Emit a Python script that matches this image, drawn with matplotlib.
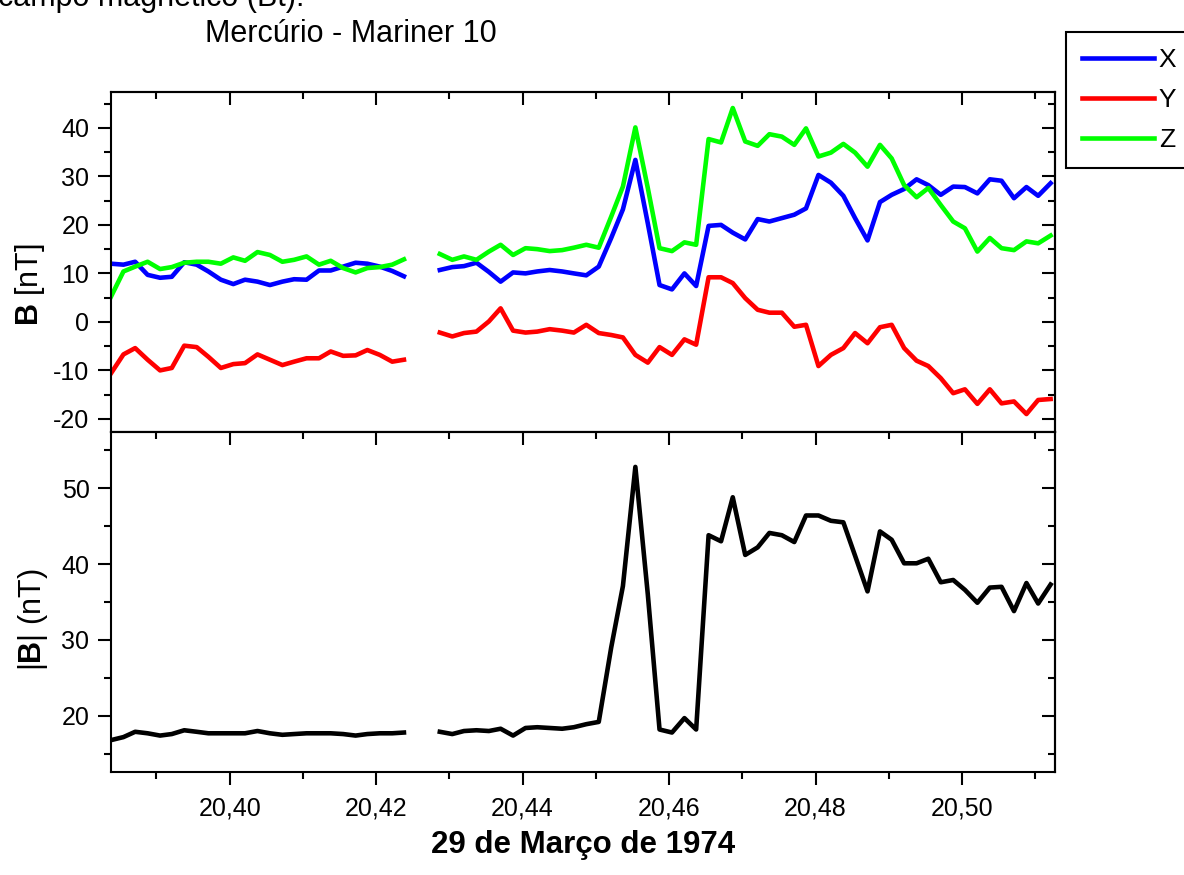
import matplotlib
matplotlib.use("Agg")
import matplotlib.pyplot as plt
from matplotlib.ticker import MultipleLocator
import numpy as np

plt.rcParams['font.family'] = ['Liberation Sans', 'DejaVu Sans']
plt.rcParams['mathtext.fontset'] = 'custom'
plt.rcParams['mathtext.rm'] = 'Liberation Sans'
plt.rcParams['mathtext.bf'] = 'Liberation Sans:bold'
plt.rcParams['axes.unicode_minus'] = False

# tempo (dia decimal) - dois trechos com falha de dados no meio
t1 = [20.3838, 20.3855, 20.3871, 20.3888, 20.3905, 20.3921, 20.3938, 20.3955,
      20.3971, 20.3988, 20.4005, 20.4021, 20.4038, 20.4055, 20.4072, 20.4088,
      20.4105, 20.4122, 20.4138, 20.4155, 20.4172, 20.4188, 20.4205, 20.4222,
      20.4238]
t2 = [20.4287, 20.4304, 20.4320, 20.4337, 20.4354, 20.4370, 20.4387, 20.4404,
      20.4420, 20.4437, 20.4454, 20.4470, 20.4487, 20.4504, 20.4521, 20.4537,
      20.4554, 20.4571, 20.4587, 20.4604, 20.4621, 20.4637, 20.4654, 20.4671,
      20.4687, 20.4704, 20.4721, 20.4737, 20.4754, 20.4771, 20.4787, 20.4804,
      20.4821, 20.4838, 20.4854, 20.4871, 20.4888, 20.4904, 20.4921, 20.4938,
      20.4954, 20.4971, 20.4988, 20.5004, 20.5021, 20.5038, 20.5054, 20.5071,
      20.5088, 20.5104, 20.5121]

bx1 = [12.0, 11.8, 12.4, 9.7, 9.1, 9.3, 12.3, 11.8, 10.4, 8.7, 7.8, 8.7, 8.3,
       7.6, 8.3, 8.8, 8.7, 10.6, 10.6, 11.4, 12.2, 12.0, 11.4, 10.5, 9.4]
by1 = [-10.6, -6.7, -5.4, -7.8, -10.0, -9.5, -4.9, -5.2, -7.2, -9.5, -8.7, -8.5,
       -6.7, -7.8, -8.9, -8.2, -7.5, -7.5, -6.1, -7.0, -6.9, -5.8, -6.8, -8.2, -7.8]
bz1 = [5.2, 10.4, 11.4, 12.4, 10.9, 11.3, 12.2, 12.4, 12.4, 12.0, 13.3, 12.6,
       14.4, 13.8, 12.4, 12.8, 13.5, 11.8, 12.6, 11.1, 10.2, 11.1, 11.3, 11.8, 12.9]
bt1 = [16.8, 17.2, 17.9, 17.7, 17.4, 17.6, 18.1, 17.9, 17.7, 17.7, 17.7, 17.7,
       18.0, 17.7, 17.5, 17.6, 17.7, 17.7, 17.7, 17.6, 17.4, 17.6, 17.7, 17.7, 17.8]

bx2 = [10.7, 11.3, 11.5, 12.2, 10.3, 8.3, 10.2, 10.0, 10.4, 10.7, 10.4, 10.0,
       9.6, 11.4, 17.3, 23.2, 33.4, 20.3, 7.6, 6.7, 10.0, 7.4, 19.8, 20.0, 18.4,
       17.0, 21.2, 20.7, 21.4, 22.1, 23.4, 30.3, 28.7, 26.0, 21.4, 16.8, 24.7,
       26.2, 27.4, 29.4, 28.2, 26.2, 27.9, 27.8, 26.5, 29.4, 29.1, 25.5, 27.8,
       26.0, 28.6]
by2 = [-2.2, -3.0, -2.3, -2.0, 0.1, 2.8, -1.8, -2.2, -2.0, -1.5, -1.8, -2.2,
       -0.6, -2.3, -2.7, -3.2, -6.8, -8.4, -5.2, -6.8, -3.6, -4.7, 9.2, 9.2, 8.0,
       4.9, 2.5, 1.9, 1.9, -1.0, -0.6, -9.1, -6.8, -5.4, -2.3, -4.4, -1.1, -0.6,
       -5.4, -8.0, -9.1, -11.6, -14.7, -13.9, -16.9, -13.9, -16.8, -16.4, -19.0,
       -16.1, -15.9]
bz2 = [14.0, 12.8, 13.5, 12.8, 14.5, 15.9, 13.8, 15.2, 15.0, 14.6, 14.8, 15.3,
       15.9, 15.3, 21.7, 27.9, 40.1, 27.6, 15.2, 14.6, 16.4, 15.9, 37.7, 37.0,
       44.1, 37.2, 36.3, 38.7, 38.2, 36.5, 39.9, 34.1, 34.9, 36.7, 34.9, 32.0,
       36.5, 33.7, 28.2, 25.7, 27.6, 24.1, 20.7, 19.3, 14.5, 17.3, 15.2, 14.8,
       16.6, 16.2, 17.8]
bt2 = [17.9, 17.6, 18.0, 18.1, 18.0, 18.3, 17.4, 18.4, 18.5, 18.4, 18.3, 18.5,
       18.9, 19.2, 29.0, 37.1, 52.8, 36.0, 18.2, 17.8, 19.7, 18.2, 43.8, 43.0,
       48.8, 41.2, 42.2, 44.1, 43.8, 42.9, 46.4, 46.4, 45.7, 45.5, 41.1, 36.4,
       44.3, 43.2, 40.1, 40.1, 40.7, 37.6, 37.9, 36.6, 34.9, 36.9, 37.0, 33.8,
       37.5, 34.8, 37.3]

xticks = [20.40, 20.42, 20.44, 20.46, 20.48, 20.50]
xticklabels = ['20,40', '20,42', '20,44', '20,46', '20,48', '20,50']

W, H = 1184, 875
fig = plt.figure(figsize=(W / 100, H / 100), dpi=100)
L, R = 111 / W, 1055 / W
ax1 = fig.add_axes([L, 1 - 432 / H, R - L, 340 / H])
ax2 = fig.add_axes([L, 1 - 772 / H, R - L, 340 / H])

lw = 3.3
ax1.plot(t1, bx1, color='#0000ff', lw=lw, label='X')
ax1.plot(t1, by1, color='#ff0000', lw=lw, label='Y')
ax1.plot(t1, bz1, color='#00ff00', lw=lw, label='Z')
ax1.plot(t2, bx2, color='#0000ff', lw=lw)
ax1.plot(t2, by2, color='#ff0000', lw=lw)
ax1.plot(t2, bz2, color='#00ff00', lw=lw)
ax2.plot(t1, bt1, color='black', lw=lw)
ax2.plot(t2, bt2, color='black', lw=lw)

xmin, xmax = 20.3838, 20.5127
ax1.set_ylim(-22.7, 47.4)
ax2.set_ylim(12.6, 57.4)

for ax in (ax1, ax2):
    ax.set_xlim(xmin, xmax)
    for s in ax.spines.values():
        s.set_linewidth(1.5)
    ax.set_xticks(xticks)
    ax.xaxis.set_minor_locator(MultipleLocator(0.01))
    ax.yaxis.set_major_locator(MultipleLocator(10))
    ax.yaxis.set_minor_locator(MultipleLocator(5))
    ax.tick_params(which='both', width=1.5, labelsize=18)
    ax.tick_params(which='major', length=9.5)
    ax.tick_params(which='minor', length=5)
    ax.tick_params(axis='y', which='both', left=True, right=False,
                   direction='out', pad=6)
    # right / top ticks point inward
    sec = ax.secondary_yaxis('right')
    sec.yaxis.set_major_locator(MultipleLocator(10))
    sec.yaxis.set_minor_locator(MultipleLocator(5))
    sec.tick_params(which='both', direction='in', width=1.5, labelright=False)
    sec.tick_params(which='major', length=9.5)
    sec.tick_params(which='minor', length=5)
    sec.spines['right'].set_linewidth(1.5)
    top = ax.secondary_xaxis('top')
    top.set_xticks(xticks)
    top.xaxis.set_minor_locator(MultipleLocator(0.01))
    top.tick_params(which='both', direction='in', width=1.5, labeltop=False)
    top.tick_params(which='major', length=9.5)
    top.tick_params(which='minor', length=5)
    top.spines['top'].set_linewidth(1.5)

ax1.tick_params(axis='x', which='both', bottom=False, labelbottom=False)
ax2.tick_params(axis='x', which='both', direction='out', pad=8)
ax2.set_xticklabels(xticklabels)

fig.text(30 / W, 1 - 285 / H, r'$\mathbf{B}$ [nT]', rotation=90,
         ha='center', va='center', fontsize=22)
fig.text(33 / W, 1 - 620 / H, r'|$\mathbf{B}$| (nT)', rotation=90,
         ha='center', va='center', fontsize=22)
fig.text(583 / W, 1 - 845 / H, '29 de Março de 1974', ha='center', va='center',
         fontsize=22.5, fontweight='bold')
fig.text(205 / W, 1 - 42 / H, 'Mercúrio - Mariner 10', ha='left',
         va='baseline', fontsize=22)
fig.text(-2 / W, 1 - 6 / H, 'campo magnético (Bt).', ha='left',
         va='baseline', fontsize=22)

leg = fig.legend(loc='upper left', bbox_to_anchor=(1066 / W, 1 - 32 / H),
                 borderaxespad=0, fontsize=19, handlelength=2.7,
                 handletextpad=0.2, labelspacing=0.6, borderpad=0.62,
                 fancybox=False, edgecolor='black', framealpha=1)
leg.get_frame().set_linewidth(1.5)
for h in leg.get_lines():
    h.set_linewidth(3.3)

fig.savefig('out.png', dpi=100)
